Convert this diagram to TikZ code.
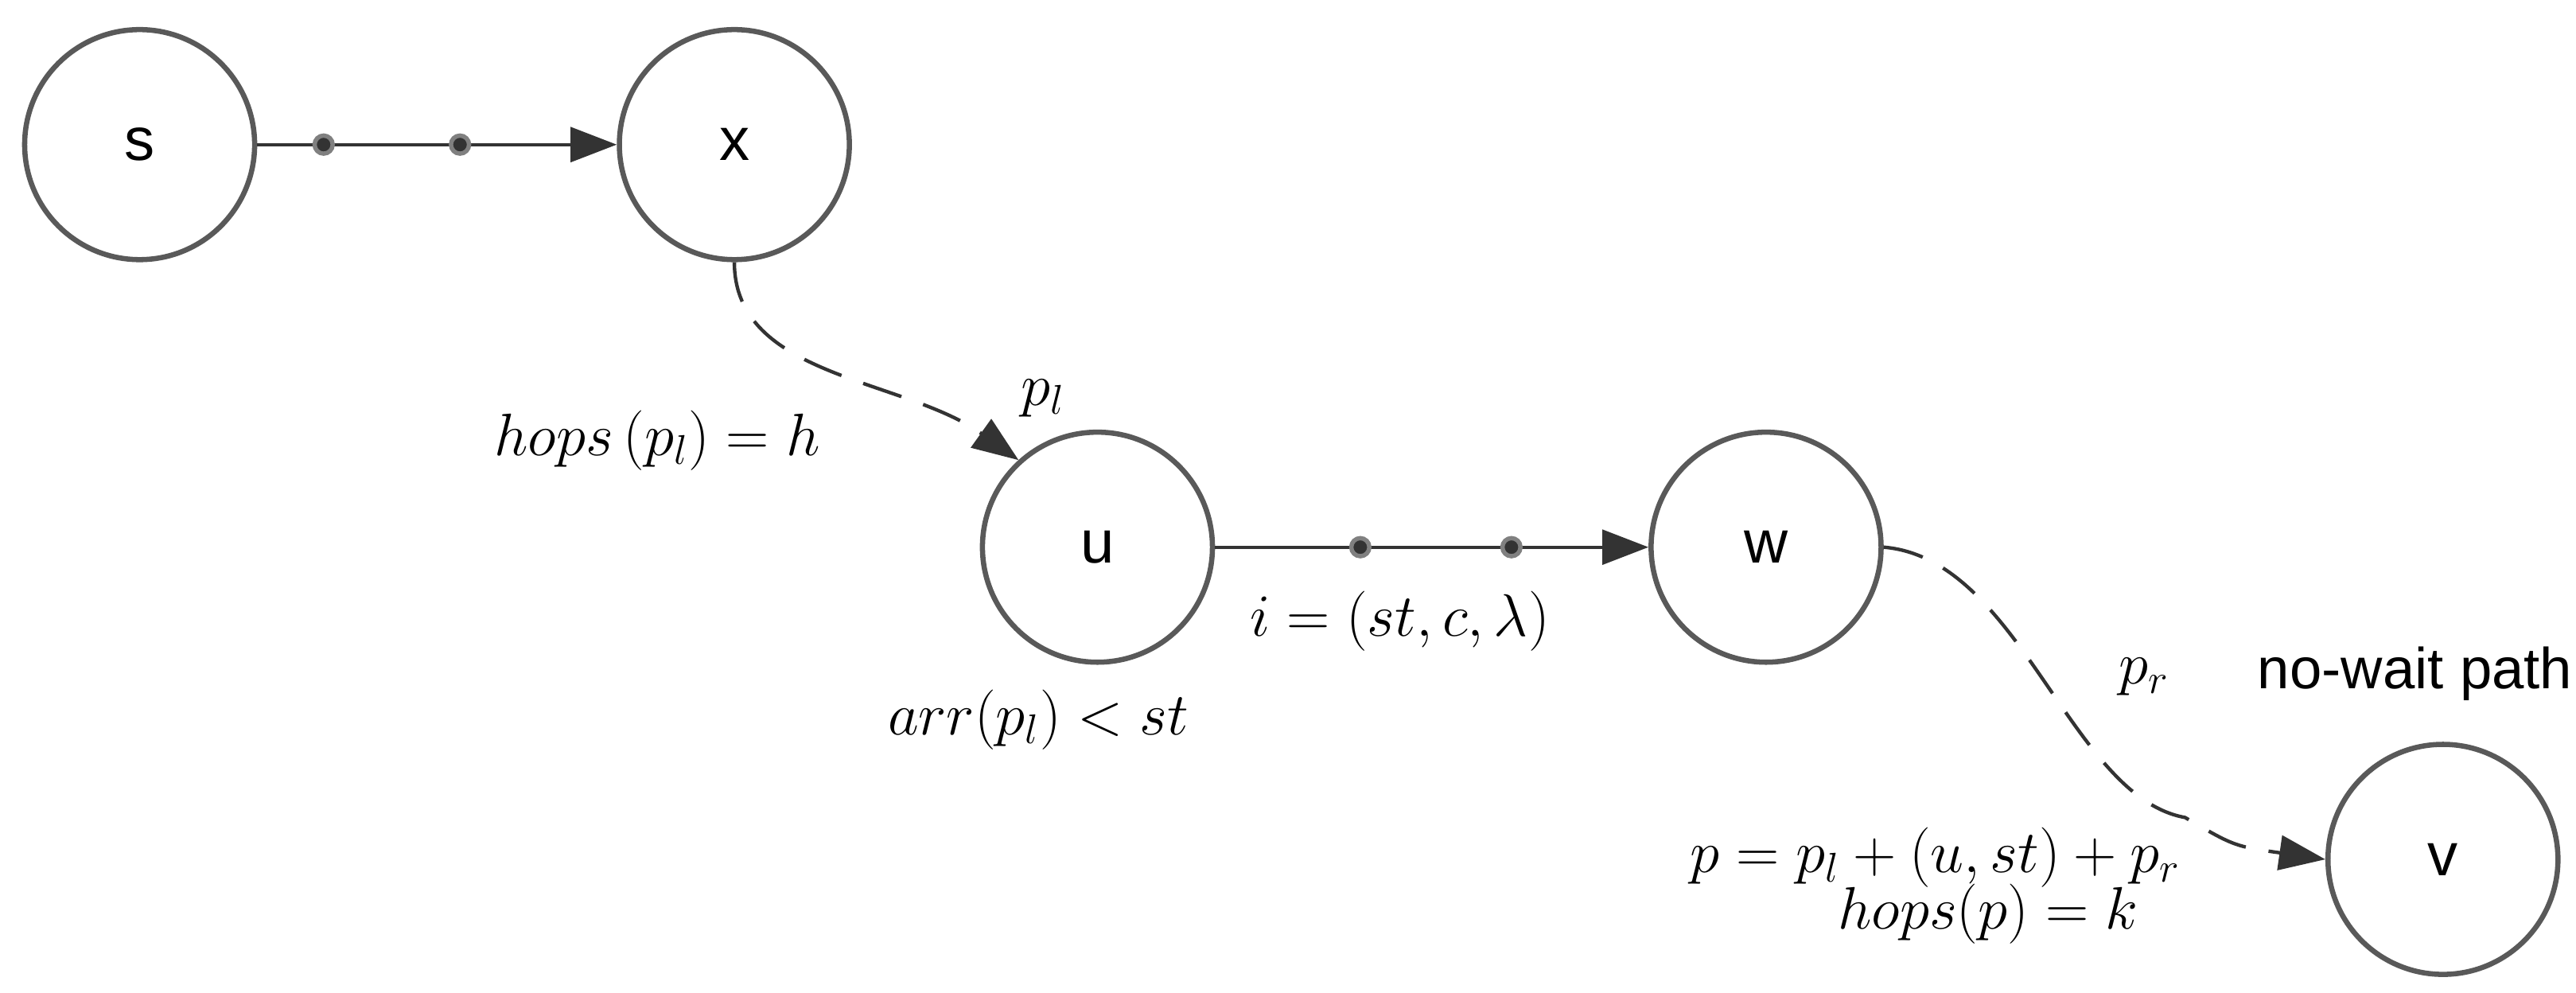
\documentclass[tikz,border=0pt]{standalone}
\usepackage{fontspec}
\setsansfont{Liberation Sans}
\usetikzlibrary{arrows.meta}
\begin{document}
\begin{tikzpicture}[
  vtx/.style={circle,draw=black!65,line width=1.8pt,minimum size=2.8cm,inner sep=0pt,font=\sffamily\fontsize{21}{24}\selectfont},
  edge/.style={draw=black!80,line width=1.2pt,-{Triangle[length=16pt,width=12pt]}},
  dedge/.style={draw=black!80,line width=1.2pt,dash pattern=on 14pt off 8pt,-{Triangle[length=16pt,width=12pt]}},
  pt/.style={circle,fill=black!80,draw=black!50,line width=1.5pt,inner sep=0pt,minimum size=0.22cm},
  lbl/.style={font=\fontsize{21}{25}\selectfont,inner sep=0pt}
]
\useasboundingbox (0,0) rectangle (31.36,-12.08);
\node[vtx] (s) at (1.7,-1.76) {s};
\node[vtx] (x) at (8.94,-1.76) {x};
\node[vtx] (u) at (13.36,-6.66) {u};
\node[vtx] (w) at (21.5,-6.66) {w};
\node[vtx] (v) at (29.74,-10.46) {v};
\draw[edge] (s) -- (x);
\node[pt] (d1) at (3.94,-1.76) {};
\node[pt] (d2) at (5.6,-1.76) {};
\draw[edge] (u) -- (w);
\node[pt] (d3) at (16.56,-6.66) {};
\node[pt] (d4) at (18.4,-6.66) {};
\draw[dedge] (x.south) .. controls (8.94,-4.6) and (11.0,-4.6) .. (12.4,-5.6);
\coordinate (m) at (26.6,-9.95);
\draw[dedge] (w.east) .. controls (24.6,-6.8) and (25.2,-9.7) .. (m) .. controls (27.2,-10.3) .. (v.west);
\node[lbl] (l1) at (8.0,-5.36) {$hops\,(p_l) = h$};
\node[lbl] (l2) at (12.7,-4.85) {$p_l$};
\node[lbl] (l3) at (17.04,-7.56) {$i = (st, c, \lambda)$};
\node[lbl] (l4) at (12.64,-8.76) {$arr(p_l) < st$};
\node[lbl] (l5) at (26.1,-8.24) {$p_r$};
\node[lbl,font=\sffamily\fontsize{20}{24}\selectfont] (l6) at (29.4,-8.2) {no-wait path};
\node[lbl] (l7) at (23.56,-10.44) {$p = p_l + (u, st) + p_r$};
\node[lbl] (l8) at (24.2,-11.12) {$hops(p) = k$};
\end{tikzpicture}
\end{document}
